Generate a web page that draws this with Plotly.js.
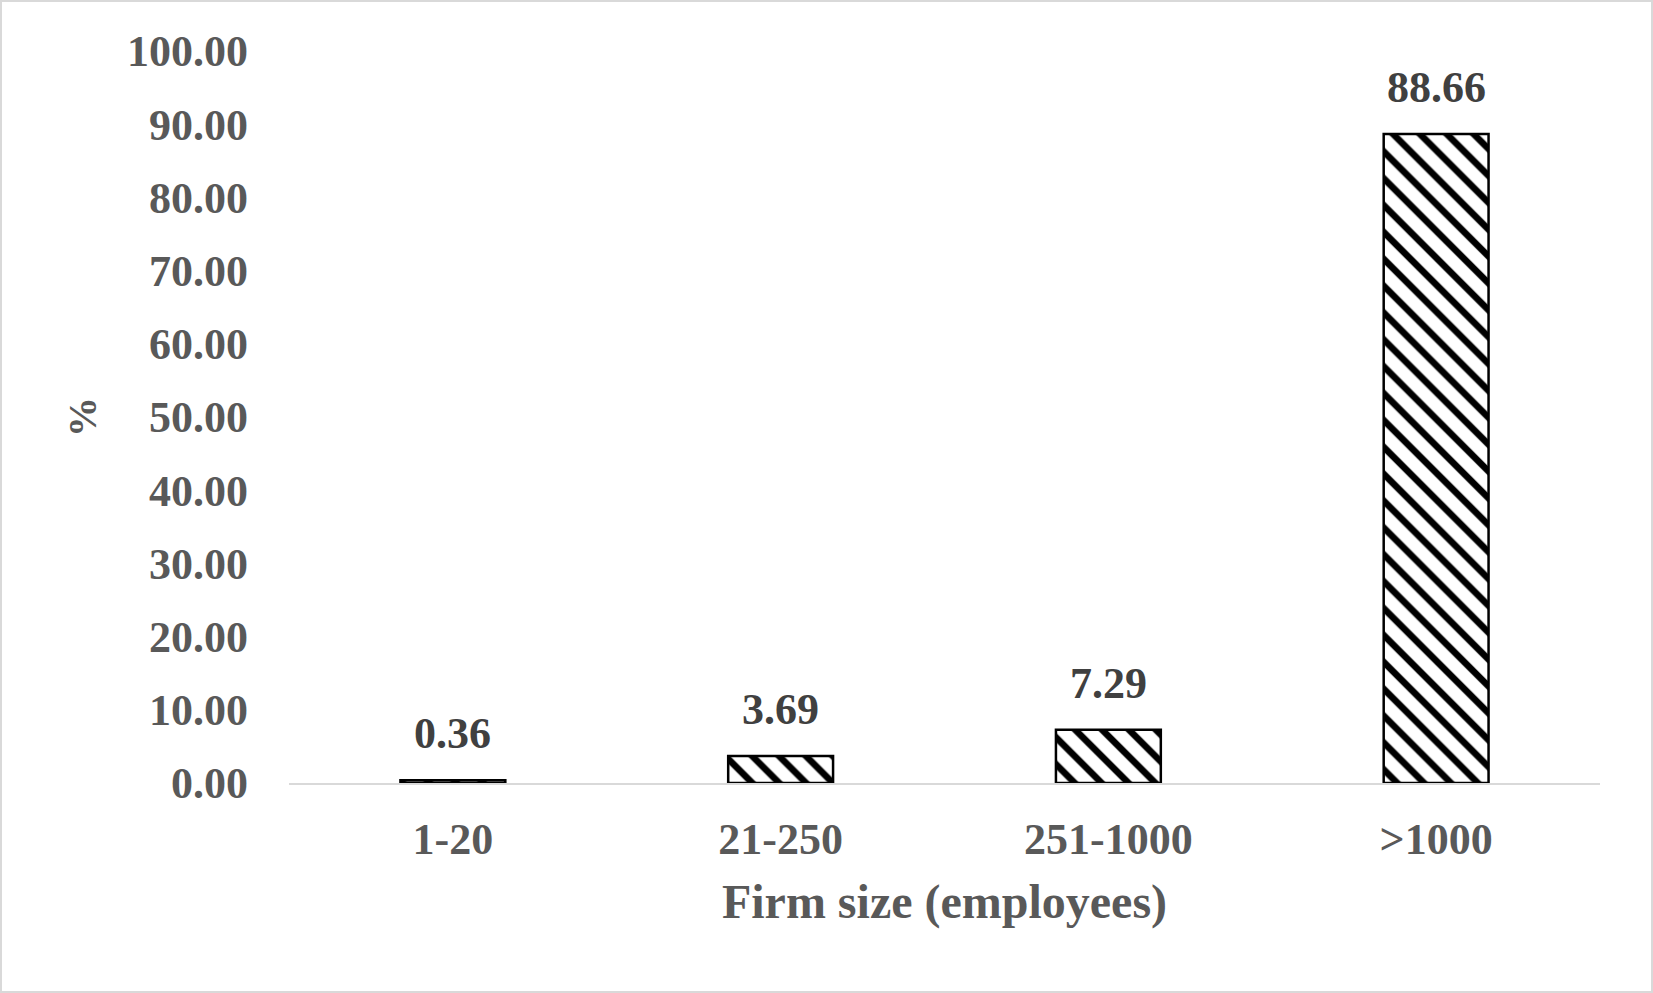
<!DOCTYPE html>
<html>
<head>
<meta charset="utf-8">
<script src="https://cdn.plot.ly/plotly-3.0.1.min.js"></script>
<style>
  html, body { margin: 0; padding: 0; background: #fff; }
  #wrap { position: relative; width: 1653px; height: 993px; }
  #chart { width: 1653px; height: 993px; }
  #frame { position: absolute; left: 0; top: 0; width: 1653px; height: 993px; box-sizing: border-box; border: 2px solid #d9d9d9; pointer-events: none; }
</style>
</head>
<body>
<div id="wrap">
  <div id="chart"></div>
  <div id="frame"></div>
</div>
<script>
const categories = ["1-20", "21-250", "251-1000", ">1000"];
const values = [0.36, 3.69, 7.29, 88.66];
const valueLabels = ["0.36", "3.69", "7.29", "88.66"];
const yTickVals = [0, 10, 20, 30, 40, 50, 60, 70, 80, 90, 100];
const yTickText = ["0.00", "10.00", "20.00", "30.00", "40.00", "50.00", "60.00", "70.00", "80.00", "90.00", "100.00"];
const xTitle = "Firm size (employees)";
const yTitle = "%";

const FONT = "'Liberation Serif', 'Times New Roman', serif";

const trace = {
  type: "bar",
  x: categories,
  y: values,
  marker: {
    color: "white",
    line: { color: "black", width: 2.5 },
    pattern: { shape: "\\", fgcolor: "black", bgcolor: "white", size: 19, solidity: 0.35 }
  },
  hoverinfo: "none"
};

const annotations = categories.map((c, i) => ({
  x: c, y: values[i], xref: "x", yref: "y",
  text: "<b>" + valueLabels[i] + "</b>",
  showarrow: false, yanchor: "bottom", yshift: 20,
  font: { family: FONT, size: 44, color: "#404040" }
}));

const layout = {
  width: 1653, height: 993,
  margin: { l: 289, r: 53, t: 51, b: 210 },
  paper_bgcolor: "white", plot_bgcolor: "white",
  bargap: 0.68,
  showlegend: false,
  font: { family: FONT, color: "#595959" },
  xaxis: {
    type: "category",
    showgrid: false, zeroline: false,
    showline: true, linecolor: "#d9d9d9", linewidth: 2,
    ticks: "", ticklabelstandoff: 16,
    tickfont: { family: FONT, size: 44, color: "#595959", weight: "bold" },
    title: { text: "<b>" + xTitle + "</b>", font: { family: FONT, size: 48, color: "#595959" }, standoff: 22 }
  },
  yaxis: {
    range: [0, 100],
    tickvals: yTickVals, ticktext: yTickText,
    showgrid: false, zeroline: false, showline: false,
    ticks: "", ticklabelstandoff: 40,
    tickfont: { family: FONT, size: 44, color: "#595959", weight: "bold" },
    title: { text: "<b>" + yTitle + "</b>", font: { family: FONT, size: 40, color: "#595959" }, standoff: 18 }
  },
  annotations: annotations
};

Plotly.newPlot("chart", [trace], layout, { staticPlot: true, displayModeBar: false });
</script>
</body>
</html>
